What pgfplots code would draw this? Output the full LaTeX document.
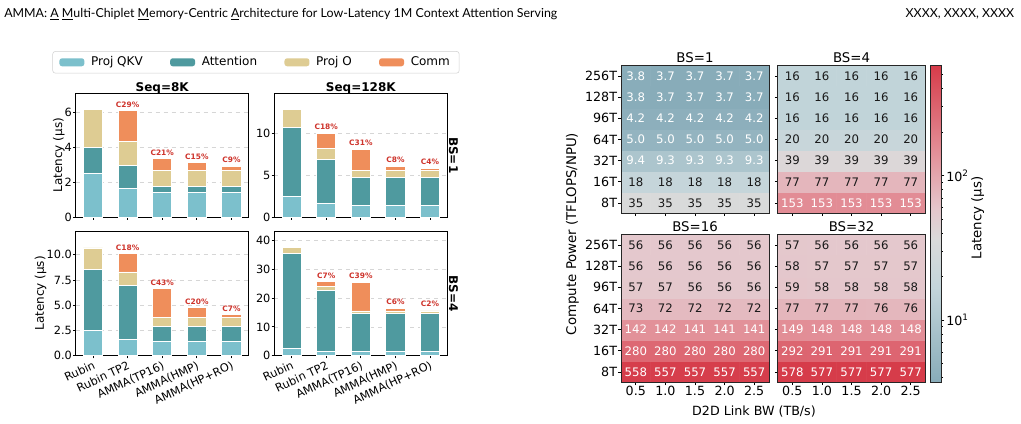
\documentclass[border=0pt]{standalone}
\usepackage{fontspec}
\usepackage{pgfplots}
\usepackage{pgfplotstable}
\pgfplotsset{compat=1.18}
\setmainfont{DejaVu Sans}
\newfontfamily\hdrfont{Lato}

\newcommand{\fs}[1]{\fontsize{#1}{#1}\selectfont}

% segment colours
\definecolor{cQKV}{RGB}{124,192,204}
\definecolor{cAttn}{RGB}{79,154,159}
\definecolor{cProjO}{RGB}{222,204,147}
\definecolor{cComm}{RGB}{239,142,91}
\definecolor{cLbl}{RGB}{206,52,44}
\definecolor{gridc}{RGB}{214,214,214}

% latency breakdown (us); x: 0 Rubin, 1 Rubin TP2, 2 AMMA(TP16), 3 AMMA(HMP), 4 AMMA(HP+RO)
\pgfplotstableread{
x qkv attn projo comm
0 2.48 1.50 2.15 0
1 1.63 1.32 1.37 1.77
2 1.43 0.34 0.88 0.70
3 1.43 0.34 0.88 0.46
4 1.43 0.34 0.88 0.26
}\sEightBOne
\pgfplotstableread{
x qkv attn projo comm
0 2.47 8.21 2.15 0
1 1.63 5.26 1.31 1.84
2 1.43 3.31 0.88 2.51
3 1.43 3.31 0.88 0.48
4 1.43 3.31 0.88 0.24
}\sLongBOne
\pgfplotstableread{
x qkv attn projo comm
0 2.47 6.03 2.17 0
1 1.60 5.34 1.36 1.84
2 1.40 1.50 0.90 2.84
3 1.40 1.50 0.90 0.94
4 1.40 1.50 0.90 0.29
}\sEightBFour
\pgfplotstableread{
x qkv attn projo comm
0 2.47 32.90 2.15 0
1 1.60 20.96 1.36 1.88
2 1.40 13.25 0.90 10.00
3 1.40 13.25 0.90 0.95
4 1.40 13.25 0.90 0.30
}\sLongBFour

% latency (us): x = D2D BW index (0.5..2.5 TB/s), y = compute index (0: 8T ... 6: 256T)
\pgfplotstableread[row sep=\\]{
x y v\\
0 0 35\\ 1 0 35\\ 2 0 35\\ 3 0 35\\ 4 0 35\\
0 1 18\\ 1 1 18\\ 2 1 18\\ 3 1 18\\ 4 1 18\\
0 2 9.4\\ 1 2 9.3\\ 2 2 9.3\\ 3 2 9.3\\ 4 2 9.3\\
0 3 5.0\\ 1 3 5.0\\ 2 3 5.0\\ 3 3 5.0\\ 4 3 5.0\\
0 4 4.2\\ 1 4 4.2\\ 2 4 4.2\\ 3 4 4.2\\ 4 4 4.2\\
0 5 3.8\\ 1 5 3.7\\ 2 5 3.7\\ 3 5 3.7\\ 4 5 3.7\\
0 6 3.8\\ 1 6 3.7\\ 2 6 3.7\\ 3 6 3.7\\ 4 6 3.7\\
}\hmOne
\pgfplotstableread[row sep=\\]{
x y v\\
0 0 153\\ 1 0 153\\ 2 0 153\\ 3 0 153\\ 4 0 153\\
0 1 77\\ 1 1 77\\ 2 1 77\\ 3 1 77\\ 4 1 77\\
0 2 39\\ 1 2 39\\ 2 2 39\\ 3 2 39\\ 4 2 39\\
0 3 20\\ 1 3 20\\ 2 3 20\\ 3 3 20\\ 4 3 20\\
0 4 16\\ 1 4 16\\ 2 4 16\\ 3 4 16\\ 4 4 16\\
0 5 16\\ 1 5 16\\ 2 5 16\\ 3 5 16\\ 4 5 16\\
0 6 16\\ 1 6 16\\ 2 6 16\\ 3 6 16\\ 4 6 16\\
}\hmFour
\pgfplotstableread[row sep=\\]{
x y v\\
0 0 558\\ 1 0 557\\ 2 0 557\\ 3 0 557\\ 4 0 557\\
0 1 280\\ 1 1 280\\ 2 1 280\\ 3 1 280\\ 4 1 280\\
0 2 142\\ 1 2 142\\ 2 2 141\\ 3 2 141\\ 4 2 141\\
0 3 73\\ 1 3 72\\ 2 3 72\\ 3 3 72\\ 4 3 72\\
0 4 57\\ 1 4 57\\ 2 4 56\\ 3 4 56\\ 4 4 56\\
0 5 56\\ 1 5 56\\ 2 5 56\\ 3 5 56\\ 4 5 56\\
0 6 56\\ 1 6 56\\ 2 6 56\\ 3 6 56\\ 4 6 56\\
}\hmSixteen
\pgfplotstableread[row sep=\\]{
x y v\\
0 0 578\\ 1 0 577\\ 2 0 577\\ 3 0 577\\ 4 0 577\\
0 1 292\\ 1 1 291\\ 2 1 291\\ 3 1 291\\ 4 1 291\\
0 2 149\\ 1 2 148\\ 2 2 148\\ 3 2 148\\ 4 2 148\\
0 3 77\\ 1 3 77\\ 2 3 77\\ 3 3 76\\ 4 3 76\\
0 4 59\\ 1 4 58\\ 2 4 58\\ 3 4 58\\ 4 4 58\\
0 5 58\\ 1 5 57\\ 2 5 57\\ 3 5 57\\ 4 5 57\\
0 6 57\\ 1 6 56\\ 2 6 56\\ 3 6 56\\ 4 6 56\\
}\hmThirtyTwo
% colour scale is logarithmic in latency
\pgfplotstablecreatecol[create col/expr={log10(\thisrow{v})}]{lv}\hmOne
\pgfplotstablecreatecol[create col/expr={log10(\thisrow{v})}]{lv}\hmFour
\pgfplotstablecreatecol[create col/expr={log10(\thisrow{v})}]{lv}\hmSixteen
\pgfplotstablecreatecol[create col/expr={log10(\thisrow{v})}]{lv}\hmThirtyTwo

\pgfplotsset{
  /pgf/number format/assume math mode=true,
  colormap={hm}{rgb255(0pt)=(136,172,185); rgb255(30pt)=(195,213,218); rgb255(45pt)=(218,218,218);
                rgb255(55pt)=(229,198,203); rgb255(75pt)=(226,136,145); rgb255(100pt)=(214,60,74)},
  seglegend/.style={legend image code/.code={\fill[##1,draw=none] (0pt,-3pt) rectangle (18.75pt,3pt);}},
  seg/.style={draw=white, line width=0.6pt, seglegend},
  panelbox/.style={
    scale only axis, width=129.75pt, height=93pt, anchor=south west,
    xmin=-0.5, xmax=4.5, ymin=0,
  },
  barpanel/.style={
    panelbox,
    ybar stacked, bar width=0.55,
    xtick={0,1,2,3,4}, xticklabels={},
    xtick pos=left, ytick pos=left,
    tick align=outside, major tick length=2pt,
    tick style={black, line width=0.6pt},
    axis line style={black, line width=0.7pt},
    ymajorgrids, major grid style={gridc, dashed, line width=0.4pt},
    ticklabel style={font=\fs{8.5}, inner sep=0.7pt},
    ylabel style={font=\fs{9}, inner sep=1.2pt, yshift=-2pt},
  },
  labelpanel/.style={panelbox, hide axis, clip=false},
  designlabels/.style={
    xticklabels={Rubin, Rubin TP2, AMMA(TP16), AMMA(HMP), AMMA(HP+RO)},
    xticklabel style={rotate=25, anchor=north east, inner sep=1pt, font=\fs{8.5}},
  },
  hmpanel/.style={
    scale only axis, width=111pt, height=111pt, anchor=south west,
    xmin=-0.5, xmax=4.5, ymin=-0.5, ymax=6.5, enlargelimits=false,
    xtick={0,...,4}, ytick={0,...,6},
    xticklabels={0.5,1.0,1.5,2.0,2.5},
    yticklabels={8T,16T,32T,64T,96T,128T,256T},
    xtick pos=left, ytick pos=left, tick align=outside, major tick length=2pt,
    tick style={black, line width=0.5pt},
    axis line style={black!85, line width=0.6pt},
    colormap name=hm, point meta min=0.5682, point meta max=2.7619,
    ticklabel style={font=\fs{9.5}, inner sep=0.8pt},
    axis on top,
  },
}

% one stacked bar group per design
\newcommand{\stackbars}[1]{%
  \addplot[fill=cQKV, seg] table[x=x, y=qkv] {#1};
  \addplot[fill=cAttn, seg] table[x=x, y=attn] {#1};
  \addplot[fill=cProjO, seg] table[x=x, y=projo] {#1};
  \addplot[fill=cComm, seg] table[x=x, y=comm] {#1};
}
% comm share of the total, written above each stack
\newcommand{\commlabels}[1]{%
  \addplot[only marks, mark=none,
    point meta={100*\thisrow{comm}/(\thisrow{qkv}+\thisrow{attn}+\thisrow{projo}+\thisrow{comm})},
    nodes near coords={\pgfmathfloattofixed{\pgfplotspointmeta}\ifdim\pgfmathresult pt>0.5pt C\pgfmathprintnumber[fixed,precision=0]{\pgfplotspointmeta}\%\fi},
    nodes near coords style={font=\fs{5.6}\bfseries, text=cLbl, anchor=south, inner sep=1pt, yshift=1.2pt}]
    table[x=x, y expr={\thisrow{qkv}+\thisrow{attn}+\thisrow{projo}+\thisrow{comm}}] {#1};
}

% coloured cells (log scale) with the value written in each
\newcommand{\hmcells}[1]{%
  \addplot[matrix plot*, mesh/cols=5, point meta=explicit] table[x=x, y=y, meta=lv] {#1};
  \addplot[only marks, mark=none, point meta=explicit symbolic,
    nodes near coords={\pgfmathparse{or(\pgfplotspointmeta<12,\pgfplotspointmeta>100)}\ifdim\pgfmathresult pt>0.5pt\color{white}\else\color{black!90}\fi\pgfplotspointmeta},
    nodes near coords style={anchor=center, font=\fs{8.8}, inner sep=0pt}]
    table[x=x, y=y, meta=v] {#1};
}

\begin{document}
\begin{tikzpicture}[x=0.75pt, y=0.75pt]
\path[use as bounding box] (0,0) rectangle (1021,424);

% running header
\node[anchor=base west, inner sep=0pt, font=\hdrfont\fs{9.3}] at (4,406.7)
  {AMMA: \underline{A} \underline{M}ulti-Chiplet \underline{M}emory-Centric \underline{A}rchitecture for Low-Latency 1M Context Attention Serving};
\node[anchor=base east, inner sep=0pt, font=\hdrfont\fs{9.3}] at (1014.5,406.7) {XXXX, XXXX, XXXX};

% ---------- latency breakdown ----------
\begin{axis}[barpanel, name=p1, at={(56.78pt,155.03pt)}, ymax=7.07, ytick={0,2,4,6},
  ylabel={Latency (μs)},
  legend columns=4,
  legend style={at={(1.042,1.25)}, anchor=center, draw=black!18, rounded corners=2pt,
    fill=white, font=\fs{9}, inner xsep=5pt, inner ysep=2pt,
    /tikz/every odd column/.append style={column sep=3pt},
    /tikz/every even column/.append style={column sep=18.5pt}}]
\stackbars{\sEightBOne}
\legend{Proj QKV, Attention, Proj O, Comm}
\end{axis}
\begin{axis}[labelpanel, at={(56.78pt,155.03pt)}, ymax=7.07]
\commlabels{\sEightBOne}
\end{axis}

\begin{axis}[barpanel, name=p2, at={(205.73pt,155.03pt)}, ymax=14.8, ytick={0,5,10}]
\stackbars{\sLongBOne}
\end{axis}
\begin{axis}[labelpanel, at={(205.73pt,155.03pt)}, ymax=14.8]
\commlabels{\sLongBOne}
\end{axis}

\begin{axis}[barpanel, designlabels, name=p3, at={(56.78pt,51.23pt)}, height=93.5pt, ymax=12.35,
  ytick={0,2.5,5,7.5,10},
  yticklabel style={/pgf/number format/.cd, fixed, fixed zerofill, precision=1},
  ylabel={Latency (μs)}]
\stackbars{\sEightBFour}
\end{axis}
\begin{axis}[labelpanel, at={(56.78pt,51.23pt)}, height=93.5pt, ymax=12.35]
\commlabels{\sEightBFour}
\end{axis}

\begin{axis}[barpanel, designlabels, name=p4, at={(205.73pt,51.23pt)}, height=93.5pt, ymax=43.3,
  ytick={0,10,20,30,40}]
\stackbars{\sLongBFour}
\end{axis}
\begin{axis}[labelpanel, at={(205.73pt,51.23pt)}, height=93.5pt, ymax=43.3]
\commlabels{\sLongBFour}
\end{axis}

\node[anchor=base, inner sep=0pt, font=\fs{9}\bfseries] at ([yshift=1.7pt]p1.north) {Seq=8K};
\node[anchor=base, inner sep=0pt, font=\fs{9}\bfseries] at ([yshift=1.7pt]p2.north) {Seq=128K};
\node[rotate=-90, anchor=south, inner sep=1pt, font=\fs{9}\bfseries] at (p2.east) {BS=1};
\node[rotate=-90, anchor=south, inner sep=1pt, font=\fs{9}\bfseries] at (p4.east) {BS=4};

% ---------- latency vs compute and D2D bandwidth ----------
\begin{axis}[hmpanel, name=h1, at={(465.75pt,157.88pt)}, xticklabels={}]
\hmcells{\hmOne}
\end{axis}

\begin{axis}[hmpanel, name=h2, at={(583.13pt,157.88pt)}, xticklabels={}, yticklabels={},
  colorbar,
  colorbar style={
    at={(parent axis.north east)}, anchor=north west, xshift=-4.6pt,
    width=7.7pt, height=237.75pt,
    ytick={1,2}, yticklabels={10\textsuperscript{1},10\textsuperscript{2}},
    minor ytick={0.60206,0.69897,0.77815,0.84510,0.90309,0.95424,
                 1.30103,1.47712,1.60206,1.69897,1.77815,1.84510,1.90309,1.95424,
                 2.30103,2.47712,2.60206,2.69897},
    ytick pos=right, yticklabel pos=right,
    tick align=outside, major tick length=2.6pt, minor tick length=1.6pt,
    tick style={black, line width=0.5pt},
    axis line style={black!85, line width=0.6pt},
    yticklabel style={font=\fs{9.5}, inner sep=1.2pt},
  }]
\hmcells{\hmFour}
\end{axis}

\begin{axis}[hmpanel, name=h3, at={(465.75pt,31.13pt)}]
\hmcells{\hmSixteen}
\end{axis}

\begin{axis}[hmpanel, name=h4, at={(583.13pt,31.13pt)}, yticklabels={}]
\hmcells{\hmThirtyTwo}
\end{axis}

\node[anchor=base, inner sep=0pt, font=\fs{10}] at ([yshift=2.3pt]h1.north) {BS=1};
\node[anchor=base, inner sep=0pt, font=\fs{10}] at ([yshift=2.3pt]h2.north) {BS=4};
\node[anchor=base, inner sep=0pt, font=\fs{10}] at ([yshift=2.3pt]h3.north) {BS=16};
\node[anchor=base, inner sep=0pt, font=\fs{10}] at ([yshift=2.3pt]h4.north) {BS=32};

\node[rotate=90, font=\fs{10}] at (572.5,190) {Compute Power (TFLOPS/NPU)};
\node[font=\fs{9.5}] at (754,12.3) {D2D Link BW (TB/s)};
\node[rotate=90, font=\fs{10}] at (977.7,206) {Latency (μs)};
\end{tikzpicture}
\end{document}
